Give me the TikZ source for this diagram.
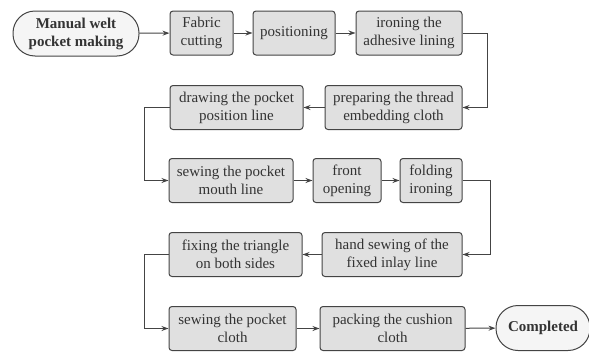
\documentclass[tikz,border=0pt]{standalone}
\usepackage{fontspec}
\setmainfont{Liberation Serif}
\usetikzlibrary{arrows.meta}
\definecolor{boxfill}{HTML}{E0E0E0}
\definecolor{termfill}{HTML}{F5F5F5}
\definecolor{edge}{HTML}{444444}
\definecolor{txt}{HTML}{333333}
\begin{document}
\begin{tikzpicture}[x=1pt,y=-1pt,
  stepbox/.style={draw=edge, line width=1pt, fill=boxfill, rounded corners=3pt, text=txt,
    align=center, inner sep=1pt, minimum height=44pt, font=\rmfamily\fontsize{15}{18}\selectfont},
  termbox/.style={draw=edge, line width=1pt, fill=termfill, rounded corners=22pt, text=txt,
    align=center, inner sep=1pt, minimum height=45pt, font=\rmfamily\fontsize{15}{18}\selectfont\bfseries},
  arr/.style={draw=edge, line width=1pt, -{Stealth[length=7pt,width=5pt]}}]
\useasboundingbox (0,0) rectangle (589,351);
% row 1
\node[termbox, minimum width=126pt] (start) at (76,33.5) {Manual welt\\pocket making};
\node[stepbox, minimum width=63pt] (fabric) at (201.5,33) {Fabric\\cutting};
\node[stepbox, minimum width=82pt] (pos) at (294,33) {positioning};
\node[stepbox, minimum width=106pt] (iron) at (409,33) {ironing the\\adhesive lining};
% row 2
\node[stepbox, minimum width=137pt] (prep) at (393.5,107.5) {preparing the thread\\embedding cloth};
\node[stepbox, minimum width=133pt] (draw) at (236.5,107.5) {drawing the pocket\\position line};
% row 3
\node[stepbox, minimum width=124pt] (mouth) at (231,180.5) {sewing the pocket\\mouth line};
\node[stepbox, minimum width=68pt] (front) at (347,180.5) {front\\opening};
\node[stepbox, minimum width=62pt] (fold) at (431,180.5) {folding\\ironing};
% row 4
\node[stepbox, minimum width=140pt] (hand) at (392,254.5) {hand sewing of the\\fixed inlay line};
\node[stepbox, minimum width=133pt] (fix) at (235.5,254.5) {fixing the triangle\\on both sides};
% row 5
\node[stepbox, minimum width=127pt] (cloth) at (232.5,328.5) {sewing the pocket\\cloth};
\node[stepbox, minimum width=145pt] (pack) at (392.5,328.5) {packing the cushion\\cloth};
\node[termbox, minimum width=94pt, minimum height=45pt] (done) at (543,328) {Completed};
% connectors
\draw[arr] (start) -- (fabric);
\draw[arr] (fabric) -- (pos);
\draw[arr] (pos) -- (iron);
\draw[arr] (iron.east) -- ++(25,0) |- (prep.east);
\draw[arr] (prep) -- (draw);
\draw[arr] (draw.west) -- ++(-25,0) |- (mouth.west);
\draw[arr] (mouth) -- (front);
\draw[arr] (front) -- (fold);
\draw[arr] (fold.east) -- ++(28,0) |- (hand.east);
\draw[arr] (hand) -- (fix);
\draw[arr] (fix.west) -- ++(-24,0) |- (cloth.west);
\draw[arr] (cloth) -- (pack);
\draw[arr] (pack) -- (done);
\end{tikzpicture}
\end{document}
